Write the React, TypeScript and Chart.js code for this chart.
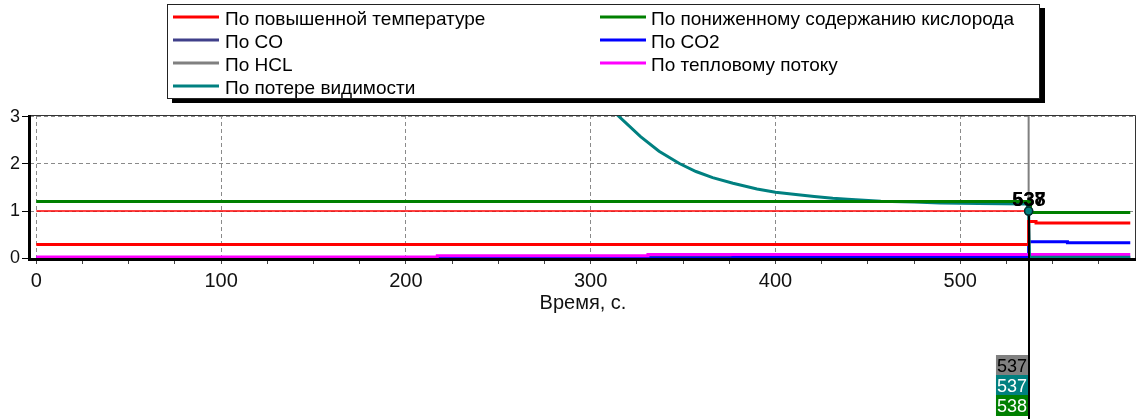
import React, { useEffect, useRef } from 'react';
import { Chart, registerables } from 'chart.js';

Chart.register(...registerables);

const FONT = '"Liberation Sans", Arial, sans-serif';

// ---- data ----
const seriesLabels = [
  'По повышенной температуре',
  'По пониженному содержанию кислорода',
  'По CO',
  'По CO2',
  'По HCL',
  'По тепловому потоку',
  'По потере видимости',
];
const seriesColors = ['#ff0000', '#008000', '#40408a', '#0000ff', '#808080', '#ff00ff', '#008080'];

const tempTimes = [0, 537, 537, 541, 541, 592];
const tempValues = [0.29, 0.29, 0.78, 0.78, 0.745, 0.745];

const oxyTimes = [0, 538, 538, 592];
const oxyValues = [1.2, 1.2, 0.97, 0.97];

const coTimes = [0, 592];
const coValues = [0.008, 0.008];

const co2Times = [0, 377, 377, 537, 537, 558, 558, 592];
const co2Values = [0.005, 0.005, 0.02, 0.02, 0.35, 0.35, 0.325, 0.325];

const hclTimes = [0, 331, 331, 537, 537];
const hclValues = [0.005, 0.005, 0.025, 0.025, 10];

const heatTimes = [0, 217, 217, 331, 331, 592];
const heatValues = [0.025, 0.025, 0.05, 0.05, 0.075, 0.075];

const visTimes = [250, 280, 300, 315, 327, 337, 348, 357, 366, 377, 390, 400, 411, 421, 431, 439, 457, 475, 489, 510, 536, 537, 537.5, 592];
const visValues = [5.5, 4.4, 3.6, 3.02, 2.58, 2.27, 2.01, 1.84, 1.71, 1.59, 1.47, 1.4, 1.35, 1.31, 1.27, 1.25, 1.21, 1.19, 1.17, 1.16, 1.15, 1.0, 0.02, 0.02];

const limitTimes = [0, 537];
const limitValues = [1, 1];

const xTickValues = [0, 25, 50, 75, 100, 125, 150, 175, 200, 225, 250, 275, 300, 325, 350, 375, 400, 425, 450, 475, 500, 525, 550, 575];
const yTickValues = [0, 1, 2, 3];

const cursorTime = 537;
const markerValue = 1.0;
const topLabels = ['537', '538'];
const cursorLabels = ['537', '537', '538'];
const cursorLabelBg = ['#808080', '#008080', '#008000'];
const cursorLabelFg = ['#000000', '#ffffff', '#ffffff'];

const pts = (t: number[], v: number[]) => t.map((x, i) => ({ x, y: v[i] }));

const overlayPlugin = {
  id: 'overlay',
  afterDatasetsDraw(chart: any) {
    const ctx = chart.ctx;
    const { left, right, top, bottom } = chart.chartArea;
    const xs = chart.scales.x;
    const ys = chart.scales.y;
    ctx.save();
    // frame
    ctx.strokeStyle = '#333';
    ctx.lineWidth = 1;
    ctx.beginPath();
    ctx.moveTo(left, top + 0.5);
    ctx.lineTo(right - 0.5, top + 0.5);
    ctx.lineTo(right - 0.5, bottom);
    ctx.stroke();
    ctx.strokeStyle = '#000';
    ctx.lineWidth = 3;
    ctx.beginPath();
    ctx.moveTo(left - 0.5, top);
    ctx.lineTo(left - 0.5, bottom + 1);
    ctx.moveTo(left - 2, bottom - 0.5);
    ctx.lineTo(right, bottom - 0.5);
    ctx.stroke();

    // cursor
    const cx = Math.round(xs.getPixelForValue(cursorTime));
    const my = ys.getPixelForValue(markerValue);
    ctx.strokeStyle = '#000';
    ctx.lineWidth = 2;
    ctx.beginPath();
    ctx.moveTo(cx, my);
    ctx.lineTo(cx, chart.height);
    ctx.stroke();

    // marker redraw on top
    const visIdx = 6;
    const meta = chart.getDatasetMeta(visIdx);
    const mIdx = visTimes.indexOf(cursorTime);
    if (meta && meta.data[mIdx]) meta.data[mIdx].draw(ctx, chart.chartArea);

    // top labels
    ctx.font = 'bold 20px ' + FONT;
    ctx.textAlign = 'center';
    ctx.textBaseline = 'alphabetic';
    ctx.fillStyle = '#000';
    topLabels.forEach((t) => ctx.fillText(t, cx, my - 5));

    // bottom labels
    ctx.font = '18px ' + FONT;
    ctx.textAlign = 'right';
    const heights = [20, 20, 21];
    let y0 = chart.height - 3 - heights.reduce((a, b) => a + b, 0);
    cursorLabels.forEach((t, i) => {
      const w = ctx.measureText(t).width + 2;
      ctx.fillStyle = cursorLabelBg[i];
      ctx.fillRect(cx - 1 - w, y0, w, heights[i]);
      ctx.fillStyle = cursorLabelFg[i];
      ctx.fillText(t, cx - 2, y0 + 17);
      y0 += heights[i];
    });
    ctx.restore();
  },
  afterDraw(chart: any) {
    const ctx = chart.ctx;
    ctx.save();
    const bx = 167, by = 4, bw = 873, bh = 95;
    ctx.fillStyle = '#000';
    ctx.fillRect(bx + 5, by + 4, bw, bh);
    ctx.fillStyle = '#fff';
    ctx.fillRect(bx, by, bw, bh);
    ctx.strokeStyle = '#222';
    ctx.lineWidth = 1;
    ctx.strokeRect(bx + 0.5, by + 0.5, bw - 1, bh - 1);
    const colLine = [173, 600];
    const colText = [225, 651];
    const rowBase = [25, 48, 71, 94];
    ctx.font = '19px ' + FONT;
    ctx.textAlign = 'left';
    ctx.textBaseline = 'alphabetic';
    chart.data.datasets.forEach((ds: any, i: number) => {
      if (!ds.inLegend) return;
      const c = i % 2;
      const r = Math.floor(i / 2);
      const ly = rowBase[r] - 8;
      ctx.strokeStyle = ds.borderColor;
      ctx.lineWidth = 3;
      ctx.beginPath();
      ctx.moveTo(colLine[c], ly);
      ctx.lineTo(colLine[c] + 46, ly);
      ctx.stroke();
      ctx.fillStyle = '#000';
      ctx.fillText(ds.label, colText[c], rowBase[r]);
    });
    ctx.restore();
  },
};

export default function App() {
  const ref = useRef<HTMLCanvasElement>(null);
  useEffect(() => {
    if (!ref.current) return;
    const seriesData = [
      pts(tempTimes, tempValues),
      pts(oxyTimes, oxyValues),
      pts(coTimes, coValues),
      pts(co2Times, co2Values),
      pts(hclTimes, hclValues),
      pts(heatTimes, heatValues),
      pts(visTimes, visValues),
    ];
    const orders = [2, 1, 7, 6, 8, 5, 4];
    const widths = [3, 3, 3, 3, 2, 3, 3];
    const markerIdx = visTimes.indexOf(cursorTime);
    const datasets: any[] = seriesData.map((d, i) => ({
      label: seriesLabels[i],
      data: d,
      borderColor: seriesColors[i],
      backgroundColor: seriesColors[i],
      borderWidth: widths[i],
      order: orders[i],
      inLegend: true,
      pointRadius: i === 6 ? (c: any) => (c.dataIndex === markerIdx ? 4 : 0) : 0,
      pointBackgroundColor: seriesColors[i],
      pointBorderColor: '#003030',
      pointBorderWidth: 1.5,
      tension: 0,
    }));
    datasets.push({
      label: '',
      data: pts(limitTimes, limitValues),
      borderColor: '#ff0000',
      borderWidth: 1.6,
      order: 3,
      inLegend: false,
      pointRadius: 0,
      tension: 0,
    });
    const chart = new Chart(ref.current, {
      type: 'line',
      data: { datasets },
      options: {
        animation: false,
        responsive: false,
        events: [],
        layout: { padding: { top: 115, right: 1, bottom: 104, left: 0 } },
        plugins: { legend: { display: false }, tooltip: { enabled: false } },
        scales: {
          x: {
            type: 'linear',
            min: -3.4,
            max: 595.1,
            afterBuildTicks: (s: any) => {
              s.ticks = xTickValues.map((v) => ({ value: v }));
            },
            afterFit: (s: any) => {
              s.height = 55;
            },
            ticks: {
              autoSkip: false,
              maxRotation: 0,
              padding: 5,
              color: '#111',
              font: { family: FONT, size: 20 },
              callback: (v: any) => (v % 100 === 0 ? String(v) : ''),
            },
            grid: {
              color: (c: any) => (c.tick && c.tick.value % 100 === 0 ? '#8a8a8a' : 'rgba(0,0,0,0)'),
              tickColor: '#444',
              tickLength: 4,
              lineWidth: 1,
            },
            border: { display: false, dash: [4, 3] },
            title: {
              display: true,
              text: 'Время, с.',
              color: '#111',
              font: { family: FONT, size: 20 },
              padding: { top: 0, bottom: 0 },
            },
          },
          y: {
            type: 'linear',
            min: -0.04,
            max: 3.04,
            afterBuildTicks: (s: any) => {
              s.ticks = yTickValues.map((v) => ({ value: v }));
            },
            afterFit: (s: any) => {
              s.width = 30;
            },
            ticks: {
              padding: 2,
              color: '#111',
              font: { family: FONT, size: 18 },
            },
            grid: {
              color: '#8a8a8a',
              tickColor: '#000',
              tickLength: 8,
              lineWidth: 1,
            },
            border: { display: false, dash: [4, 3] },
          },
        },
      },
      plugins: [overlayPlugin],
    } as any);
    return () => chart.destroy();
  }, []);
  return (
    <div style={{ position: 'absolute', left: 0, top: 0, width: 1137, height: 419, background: '#fff' }}>
      <canvas ref={ref} width={1137} height={419} style={{ display: 'block' }} />
    </div>
  );
}
